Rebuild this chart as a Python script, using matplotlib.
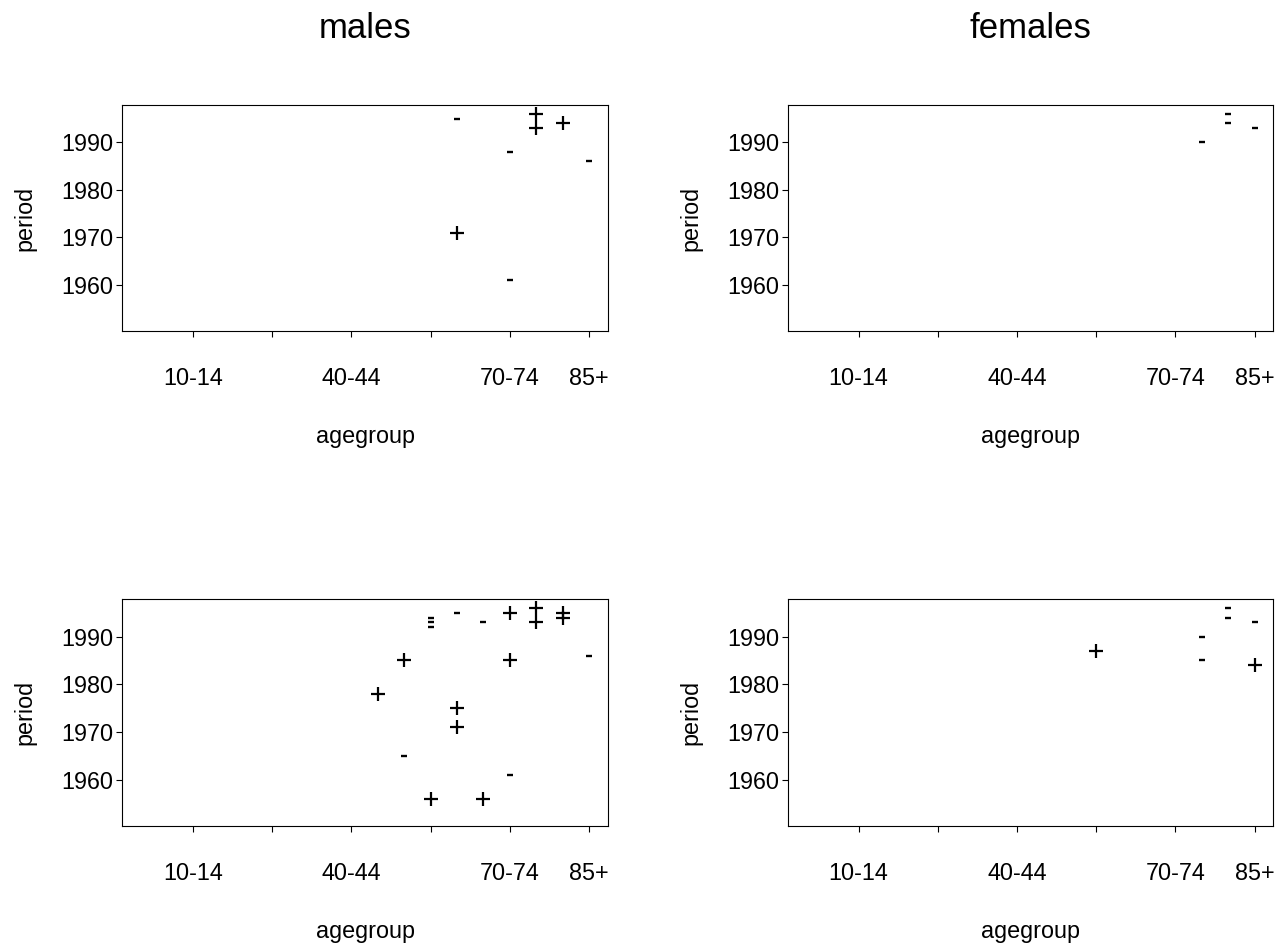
import matplotlib
matplotlib.use("Agg")
import matplotlib.pyplot as plt

plt.rcParams['font.family'] = ['Liberation Sans', 'DejaVu Sans']

agegroups = ["0-4", "5-9", "10-14", "15-19", "20-24", "25-29", "30-34", "35-39",
             "40-44", "45-49", "50-54", "55-59", "60-64", "65-69", "70-74",
             "75-79", "80-84", "85+"]
tick_groups = ["10-14", "25-29", "40-44", "55-59", "70-74", "85+"]
tick_labels = ["10-14", "", "40-44", "", "70-74", "85+"]
period_ticks = [1960, 1970, 1980, 1990]

# males, top panel
m1_age = ["60-64", "60-64", "70-74", "70-74", "75-79", "75-79", "80-84", "85+"]
m1_period = [1995, 1971, 1988, 1961, 1996, 1993, 1994, 1986]
m1_sign = ["-", "+", "-", "-", "+", "+", "+", "-"]

# females, top panel
f1_age = ["75-79", "80-84", "80-84", "85+"]
f1_period = [1990, 1996, 1994, 1993]
f1_sign = ["-", "-", "-", "-"]

# males, bottom panel
m2_age = ["45-49", "50-54", "50-54", "55-59", "55-59", "55-59", "55-59",
          "60-64", "60-64", "60-64", "65-69", "65-69", "70-74", "70-74",
          "70-74", "75-79", "75-79", "80-84", "80-84", "85+"]
m2_period = [1978, 1985, 1965, 1994, 1993, 1992, 1956,
             1995, 1975, 1971, 1993, 1956, 1995, 1985,
             1961, 1996, 1993, 1995, 1994, 1986]
m2_sign = ["+", "+", "-", "-", "-", "-", "+",
           "-", "+", "+", "-", "+", "+", "+",
           "-", "+", "+", "+", "+", "-"]

# females, bottom panel
f2_age = ["55-59", "75-79", "75-79", "80-84", "80-84", "85+", "85+"]
f2_period = [1987, 1990, 1985, 1996, 1994, 1993, 1984]
f2_sign = ["+", "-", "-", "-", "-", "-", "+"]

W, H = 1288, 947
fig = plt.figure(figsize=(W / 100, H / 100), dpi=100)

def rect(l, t, r, b):
    return [l / W, 1 - b / H, (r - l) / W, (b - t) / H]

panels = [
    (rect(122.3, 105, 608, 331.3), m1_age, m1_period, m1_sign),
    (rect(788.3, 105, 1273.3, 331.3), f1_age, f1_period, f1_sign),
    (rect(122.3, 599.3, 608, 826), m2_age, m2_period, m2_sign),
    (rect(788.3, 599.3, 1273.3, 826), f2_age, f2_period, f2_sign),
]

idx = {a: i for i, a in enumerate(agegroups)}

for pos, ages, periods, signs in panels:
    ax = fig.add_axes(pos)
    xp = [idx[a] for a, s in zip(ages, signs) if s == "+"]
    yp = [p for p, s in zip(periods, signs) if s == "+"]
    xm = [idx[a] for a, s in zip(ages, signs) if s == "-"]
    ym = [p for p, s in zip(periods, signs) if s == "-"]
    ax.plot(xp, yp, linestyle="none", marker="+", markersize=9.6,
            markeredgewidth=1.6, color="black")
    ax.plot(xm, ym, linestyle="none", marker="_", markersize=5.0,
            markeredgewidth=1.7, color="black")
    ax.set_xlim(-0.66, 17.71)
    ax.set_ylim(1950.25, 1997.85)
    ax.set_xticks([idx[a] for a in tick_groups])
    ax.set_xticklabels(tick_labels)
    ax.set_yticks(period_ticks)
    ax.tick_params(axis="x", direction="out", length=4, width=0.8,
                   pad=22, labelsize=16.8)
    ax.tick_params(axis="y", direction="out", length=4, width=0.8,
                   pad=2.5, labelsize=16.8)
    for sp in ax.spines.values():
        sp.set_linewidth(0.8)
        sp.set_color("black")
    ax.set_xlabel("agegroup", fontsize=16.8, labelpad=25)
    ax.set_ylabel("period", fontsize=16.8, labelpad=18)

fig.text(365 / W, 1 - 28 / H, "males", fontsize=25, ha="center", va="center")
fig.text(1030.8 / W, 1 - 28 / H, "females", fontsize=25, ha="center", va="center")

fig.savefig("out.png", dpi=100)
